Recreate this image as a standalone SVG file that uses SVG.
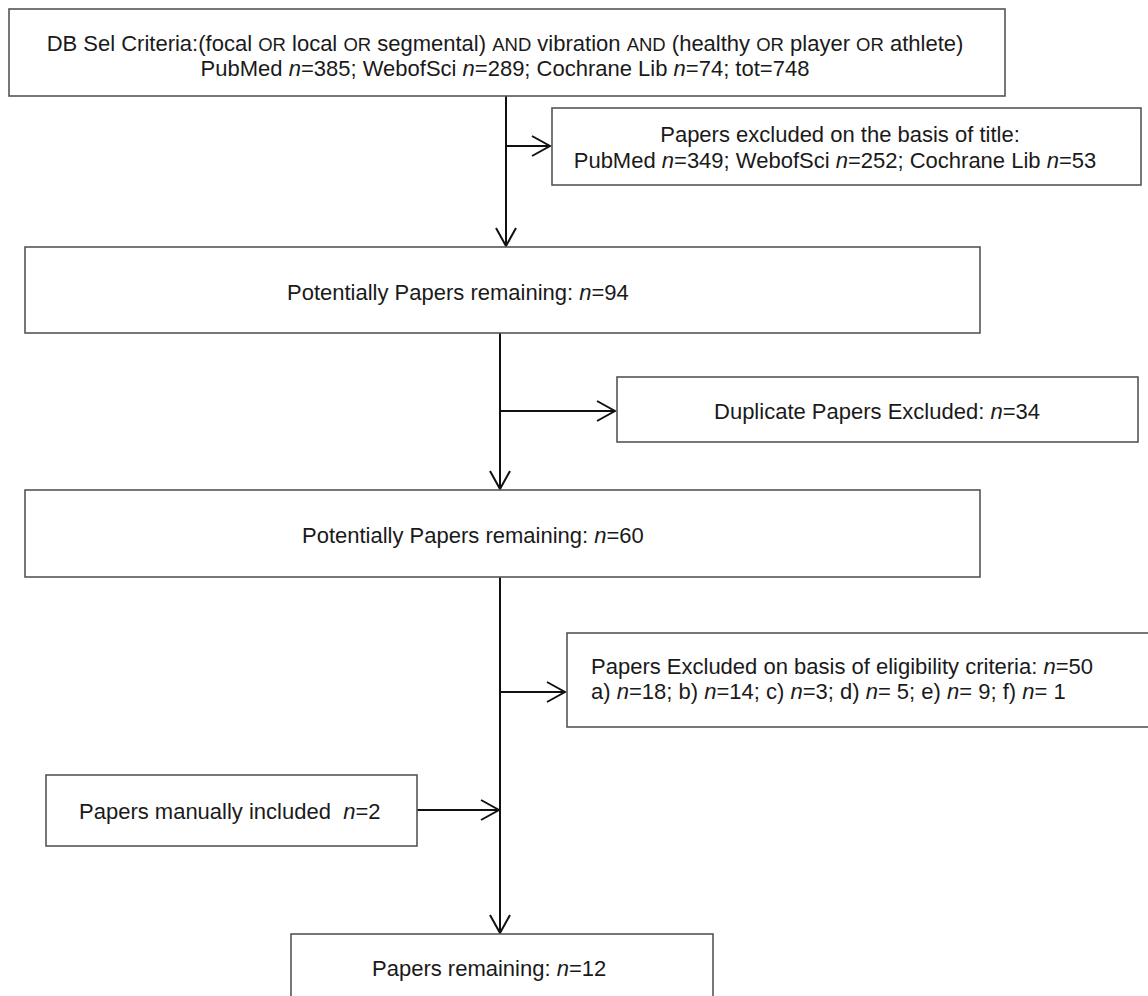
<svg xmlns="http://www.w3.org/2000/svg" width="1148" height="996" viewBox="0 0 1148 996">
<defs>
<style>
.box{fill:#fff;stroke:#555;stroke-width:1.6}
.t{font-family:"Liberation Sans",Arial,sans-serif;font-size:22px;fill:#1a1a1a}
.s{font-size:18.5px}
.c{stroke:#111;stroke-width:2;fill:none}
</style>
<marker id="ah" markerWidth="22" markerHeight="22" refX="20" refY="11" orient="auto" markerUnits="userSpaceOnUse">
<path d="M2,1 L20,11 L2,21" fill="none" stroke="#111" stroke-width="2"/>
</marker>
</defs>
<rect width="1148" height="996" fill="#fff"/>
<g id="connectors">
<line class="c" x1="506" y1="96" x2="506" y2="246" marker-end="url(#ah)"/>
<line class="c" x1="506" y1="146" x2="550" y2="146" marker-end="url(#ah)"/>
<line class="c" x1="500" y1="333" x2="500" y2="489" marker-end="url(#ah)"/>
<line class="c" x1="500" y1="411" x2="615" y2="411" marker-end="url(#ah)"/>
<line class="c" x1="500" y1="577" x2="500" y2="933" marker-end="url(#ah)"/>
<line class="c" x1="500" y1="692" x2="565" y2="692" marker-end="url(#ah)"/>
<line class="c" x1="417" y1="810" x2="499" y2="810" marker-end="url(#ah)"/>
</g>
<g id="n1">
<rect class="box" x="9" y="9" width="996" height="87"/>
<text class="t" x="505" y="51" text-anchor="middle">DB Sel Criteria:(focal <tspan class="s">OR</tspan> local <tspan class="s">OR</tspan> segmental) <tspan class="s">AND</tspan> vibration <tspan class="s">AND</tspan> (healthy <tspan class="s">OR</tspan> player <tspan class="s">OR</tspan> athlete)</text>
<text class="t" x="505" y="76" text-anchor="middle">PubMed <tspan font-style="italic">n</tspan>=385; WebofSci <tspan font-style="italic">n</tspan>=289; Cochrane Lib <tspan font-style="italic">n</tspan>=74; tot=748</text>
</g>
<g id="n2">
<rect class="box" x="552" y="108" width="589" height="77"/>
<text class="t" x="840" y="142" text-anchor="middle">Papers excluded on the basis of title:</text>
<text class="t" x="835" y="168" text-anchor="middle">PubMed <tspan font-style="italic">n</tspan>=349; WebofSci <tspan font-style="italic">n</tspan>=252; Cochrane Lib <tspan font-style="italic">n</tspan>=53</text>
</g>
<g id="n3">
<rect class="box" x="25" y="247" width="955" height="86"/>
<text class="t" x="287" y="300">Potentially Papers remaining: <tspan font-style="italic">n</tspan>=94</text>
</g>
<g id="n4">
<rect class="box" x="617" y="377" width="521" height="65"/>
<text class="t" x="877" y="419" text-anchor="middle">Duplicate Papers Excluded: <tspan font-style="italic">n</tspan>=34</text>
</g>
<g id="n5">
<rect class="box" x="25" y="490" width="955" height="87"/>
<text class="t" x="302" y="543">Potentially Papers remaining: <tspan font-style="italic">n</tspan>=60</text>
</g>
<g id="n6">
<rect class="box" x="567" y="633" width="590" height="94"/>
<text class="t" x="591" y="674">Papers Excluded on basis of eligibility criteria:  <tspan font-style="italic">n</tspan>=50</text>
<text class="t" x="591" y="699">a) <tspan font-style="italic">n</tspan>=18; b) <tspan font-style="italic">n</tspan>=14; c) <tspan font-style="italic">n</tspan>=3; d) <tspan font-style="italic">n</tspan>= 5; e) <tspan font-style="italic">n</tspan>= 9; f) <tspan font-style="italic">n</tspan>= 1</text>
</g>
<g id="n7">
<rect class="box" x="46" y="775" width="371" height="71"/>
<text class="t" x="79" y="819" xml:space="preserve">Papers manually included  <tspan font-style="italic">n</tspan>=2</text>
</g>
<g id="n8">
<rect class="box" x="291" y="934" width="422" height="80"/>
<text class="t" x="372" y="976">Papers remaining: <tspan font-style="italic">n</tspan>=12</text>
</g>
</svg>
